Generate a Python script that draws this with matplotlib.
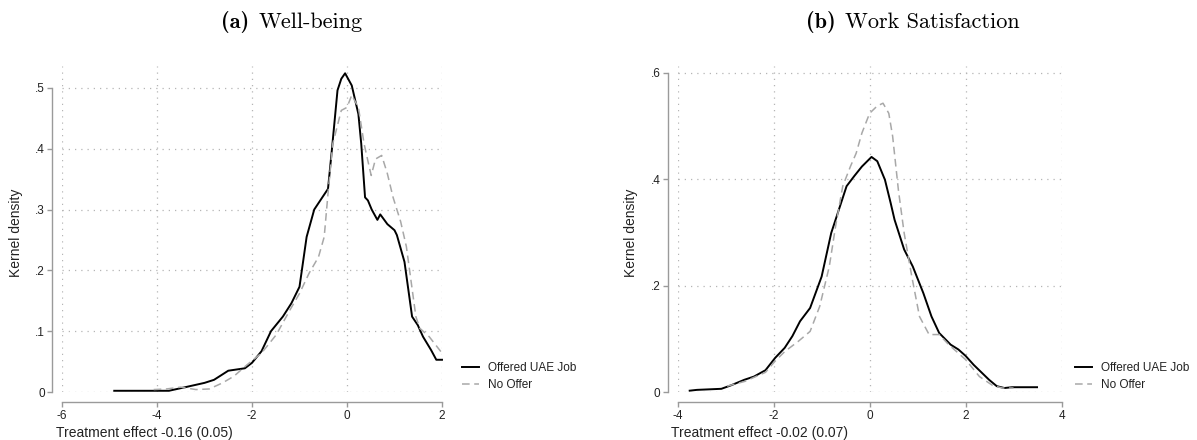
import matplotlib
matplotlib.use('Agg')
import matplotlib.pyplot as plt
from matplotlib.offsetbox import TextArea, HPacker, AnnotationBbox

plt.rcParams['font.family'] = ['Liberation Sans', 'DejaVu Sans']

# (a) Well-being
wb_offer_x = [-4.9, -3.75, -3.4, -3.0, -2.8, -2.5, -2.15, -2.0, -1.8, -1.6, -1.35, -1.17, -1.0,
              -0.85, -0.69, -0.52, -0.4, -0.32, -0.2, -0.12, -0.04, 0.1, 0.24, 0.3, 0.38, 0.44,
              0.52, 0.64, 0.70, 0.85, 1.0, 1.05, 1.21, 1.37, 1.49, 1.6, 1.77, 1.88, 2.0]
wb_offer_y = [0.002, 0.002, 0.008, 0.015, 0.02, 0.035, 0.039, 0.048, 0.067, 0.10, 0.124, 0.146, 0.173,
              0.255, 0.30, 0.32, 0.334, 0.397, 0.496, 0.515, 0.524, 0.504, 0.457, 0.408, 0.32, 0.315,
              0.30, 0.283, 0.292, 0.276, 0.266, 0.258, 0.214, 0.124, 0.110, 0.091, 0.069, 0.053, 0.053]
wb_none_x = [-4.07, -3.8, -3.5, -3.18, -2.9, -2.62, -2.38, -2.1, -1.8, -1.49, -1.2, -1.0, -0.8, -0.6,
             -0.48, -0.4, -0.3, -0.12, 0.0, 0.1, 0.24, 0.36, 0.46, 0.51, 0.6, 0.73, 0.85, 0.97, 1.13,
             1.25, 1.45, 1.53, 1.73, 2.0]
wb_none_y = [0.004, 0.005, 0.008, 0.004, 0.005, 0.015, 0.026, 0.045, 0.064, 0.094, 0.135, 0.162, 0.195, 0.222,
             0.255, 0.326, 0.408, 0.463, 0.468, 0.488, 0.468, 0.408, 0.373, 0.356, 0.383, 0.389, 0.359, 0.32, 0.28,
             0.239, 0.124, 0.105, 0.091, 0.064]

# (b) Work Satisfaction
ws_offer_x = [-3.75, -3.6, -3.09, -2.89, -2.61, -2.41, -2.17, -1.97, -1.77, -1.61, -1.45, -1.24, -1.0,
              -0.8, -0.64, -0.48, -0.32, -0.16, 0.04, 0.16, 0.32, 0.44, 0.52, 0.72, 0.9, 1.12, 1.29,
              1.45, 1.69, 1.85, 2.0, 2.17, 2.49, 2.65, 2.81, 2.97, 3.49]
ws_offer_y = [0.0025, 0.004, 0.006, 0.0125, 0.023, 0.029, 0.041, 0.064, 0.083, 0.105, 0.133, 0.158, 0.217,
              0.299, 0.343, 0.387, 0.406, 0.424, 0.442, 0.434, 0.399, 0.355, 0.324, 0.268, 0.236, 0.186, 0.142,
              0.111, 0.089, 0.08, 0.068, 0.051, 0.023, 0.011, 0.0075, 0.009, 0.009]
ws_none_x = [-2.97, -2.6, -2.17, -1.97, -1.77, -1.49, -1.24, -1.04, -0.84, -0.71, -0.56, -0.4, -0.28,
             -0.16, 0.0, 0.16, 0.28, 0.40, 0.48, 0.6, 0.72, 0.88, 1.04, 1.24, 1.45, 1.65, 2.0, 2.29,
             2.57, 2.77, 3.0]
ws_none_y = [0.011, 0.02, 0.037, 0.058, 0.076, 0.095, 0.114, 0.161, 0.236, 0.311, 0.387, 0.424, 0.449,
             0.487, 0.524, 0.538, 0.543, 0.524, 0.481, 0.38, 0.299, 0.217, 0.142, 0.108, 0.108, 0.089, 0.061, 0.029,
             0.012, 0.0075, 0.0075]

wb_xticks = [-6, -4, -2, 0, 2]
wb_xlabels = ['-6', '-4', '-2', '0', '2']
wb_yticks = [0, 0.1, 0.2, 0.3, 0.4, 0.5]
wb_ylabels = ['0', '.1', '.2', '.3', '.4', '.5']
ws_xticks = [-4, -2, 0, 2, 4]
ws_xlabels = ['-4', '-2', '0', '2', '4']
ws_yticks = [0, 0.2, 0.4, 0.6]
ws_ylabels = ['0', '.2', '.4', '.6']

legend_labels = ['Offered UAE Job', 'No Offer']
titles = [('(a)', 'Well-being'), ('(b)', 'Work Satisfaction')]
xtitles = ['Treatment effect -0.16 (0.05)', 'Treatment effect -0.02 (0.07)']

W, H = 1197, 440
fig = plt.figure(figsize=(W / 100, H / 100), dpi=100)

axcol = '#9a9a9a'
txtcol = '#222222'


def panel(rect, ox, oy, nx, ny, xt, xl, yt, yl, ylim_top, title, tx, xtitle, ylab_x, leg_x):
    ax = fig.add_axes(rect)
    ax.plot(ox, oy, color='black', lw=1.4, clip_on=False, label=legend_labels[0])
    ax.plot(nx, ny, color='#a8a8a8', lw=1.1, ls=(0, (5, 3)), clip_on=False, label=legend_labels[1])
    ax.set_xlim(xt[0], xt[-1])
    ax.set_ylim(0, ylim_top)
    ax.set_xticks(xt)
    ax.set_xticklabels(xl)
    ax.set_yticks(yt)
    ax.set_yticklabels(yl)
    ax.grid(True, color='#b5b5b5', lw=0.9, ls=(0, (1, 4)))
    for s in ['top', 'right']:
        ax.spines[s].set_visible(False)
    ax.spines['left'].set_position(('outward', 7.2))
    ax.spines['bottom'].set_position(('outward', 7.2))
    ax.spines['left'].set_bounds(yt[0], yt[-1])
    ax.spines['bottom'].set_bounds(xt[0], xt[-1])
    for s in ['left', 'bottom']:
        ax.spines[s].set_color(axcol)
        ax.spines[s].set_linewidth(1.0)
    ax.tick_params(axis='both', direction='out', length=3.6, width=1.0, color=axcol,
                   labelsize=8.5, labelcolor=txtcol, pad=1.5)
    ax.tick_params(axis='x', pad=2.5)

    # panel title: bold tag + roman text
    tag = TextArea(title[0], textprops=dict(family='cmb10', fontsize=16, color='black'))
    name = TextArea(title[1], textprops=dict(family='cmr10', fontsize=16, color='black'))
    box = HPacker(children=[tag, name], align='baseline', pad=0, sep=7)
    ab = AnnotationBbox(box, (tx, 1 - 22 / H), xycoords='figure fraction',
                        box_alignment=(0.5, 0.5), frameon=False)
    fig.add_artist(ab)

    fig.text(xtitle[1], 1 - 433 / H, xtitle[0], ha='left', va='center', fontsize=10, color=txtcol)
    fig.text(ylab_x, 1 - 233 / H, 'Kernel density', ha='center', va='center', rotation=90,
             fontsize=10, color=txtcol)
    ax.legend(loc='upper left', bbox_to_anchor=(leg_x, 1 - 362 / H), bbox_transform=fig.transFigure,
              frameon=False, fontsize=8.5, handlelength=1.4, handletextpad=0.8, labelspacing=0.4,
              borderpad=0, borderaxespad=0, labelcolor=txtcol)
    return ax


panel([62 / W, 48 / H, 380 / W, 326 / H], wb_offer_x, wb_offer_y, wb_none_x, wb_none_y,
      wb_xticks, wb_xlabels, wb_yticks, wb_ylabels, 0.536, titles[0], 292 / W,
      (xtitles[0], 56 / W), 16 / W, 462 / W)
panel([677.7 / W, 48 / H, 383.8 / W, 326 / H], ws_offer_x, ws_offer_y, ws_none_x, ws_none_y,
      ws_xticks, ws_xlabels, ws_yticks, ws_ylabels, 0.613, titles[1], 913 / W,
      (xtitles[1], 671 / W), 631 / W, 1075 / W)

fig.savefig('out.png', dpi=100)
